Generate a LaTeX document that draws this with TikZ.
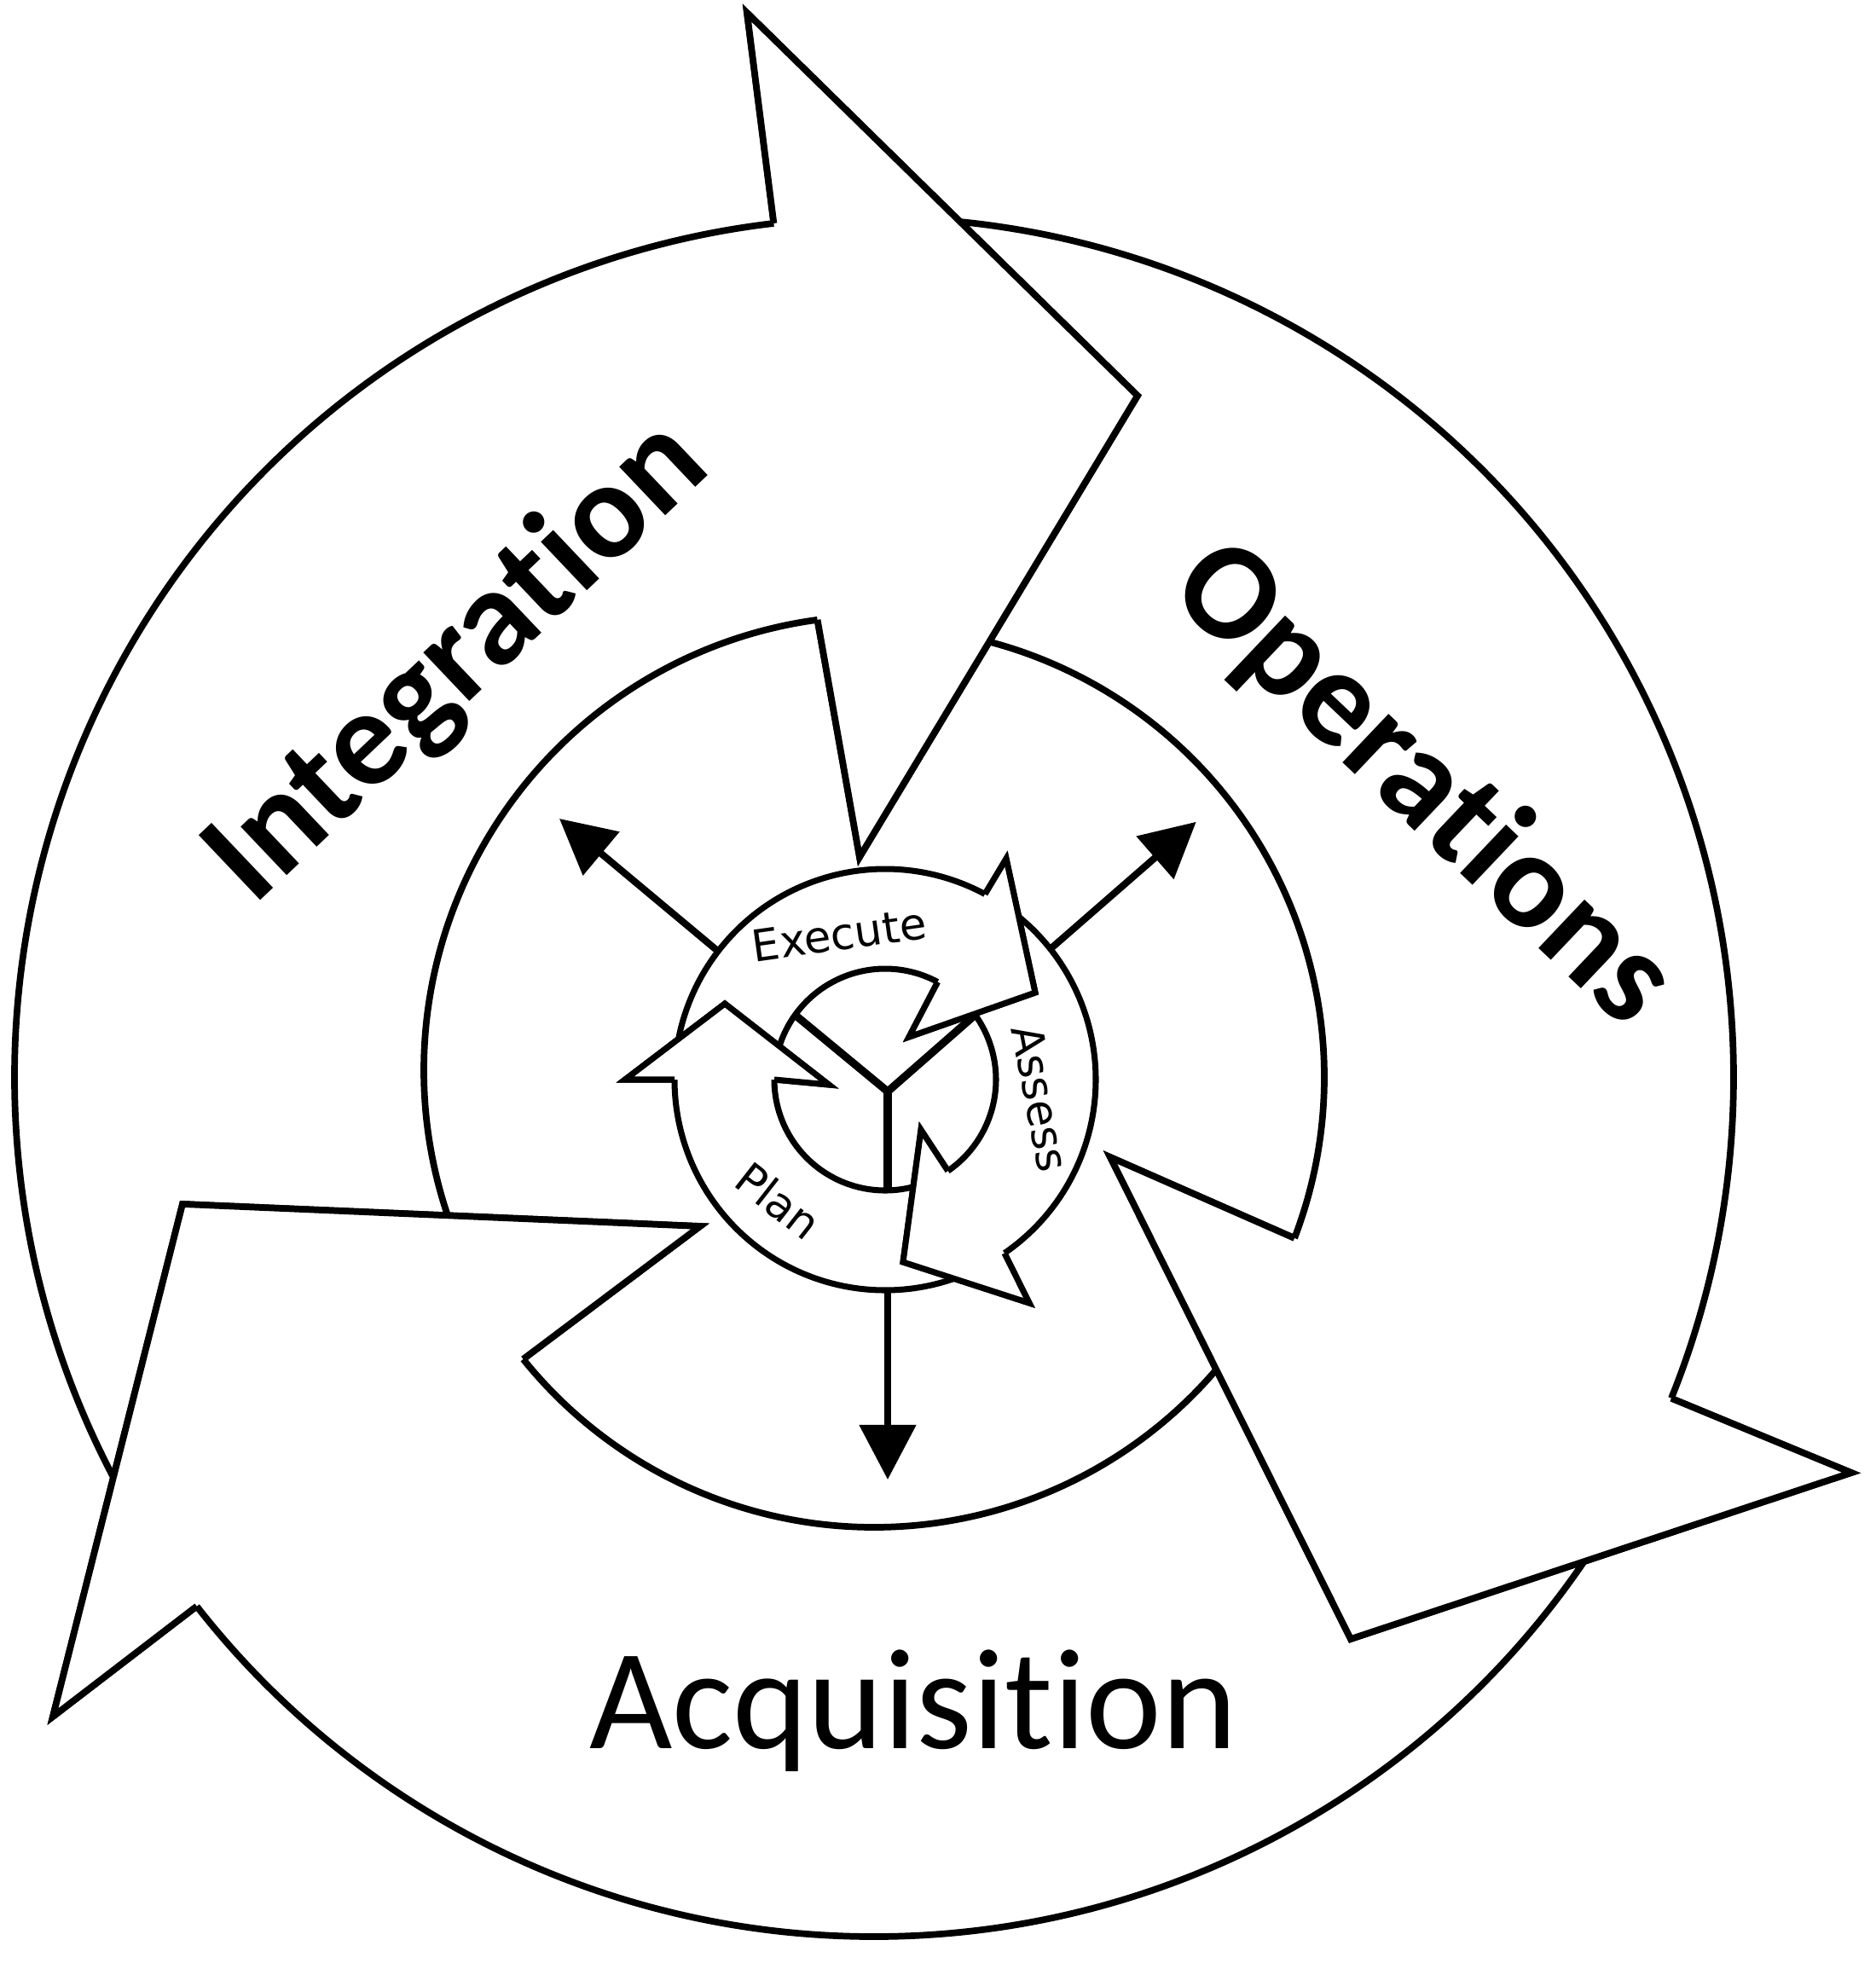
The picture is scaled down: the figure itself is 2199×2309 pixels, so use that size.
\documentclass[tikz,border=0pt]{standalone}
\usepackage{fontspec}
\setmainfont{Carlito}[Ligatures={NoCommon,NoDiscretionary,NoRare,NoContextual}]
\newfontfamily\lblDejaVu{DejaVu Sans}
\usetikzlibrary{calc,arrows.meta}
\begin{document}
\begin{tikzpicture}[x=0.01cm, y=-0.01cm,
  bigline/.style={line width=2.2pt, line join=miter},
  smallline/.style={line width=2.0pt, line join=miter},
  armline/.style={line width=2.6pt},
  radial/.style={line width=2.3pt, -{Triangle[length=0.64cm,width=0.65cm]}},
  bigtext/.style={font=\fontsize{46}{50}\selectfont\bfseries, inner sep=0pt},
  acqtext/.style={font=\fontsize{47.8}{52}\selectfont, inner sep=0pt},
  smalltext/.style={font=\lblDejaVu\fontsize{14.6}{16}\selectfont, inner sep=0pt}]

\fill[white] (0,0) rectangle (2199,2309);
\useasboundingbox (0,0) rectangle (2199,2309);

% ---------- big ring ----------
\coordinate (C) at (1025,1263);
\coordinate (Ci) at (1030,1255);

% Integration
\coordinate (IntS)  at ($(C)+(150:1008)$);
\coordinate (IntNo) at ($(C)+(263.3:1008)$);
\coordinate (IntBo) at (876,15);
\coordinate (IntT)  at (1334,464);
\coordinate (IntBi) at (1008,1005);
\coordinate (IntNi) at ($(Ci)+(262.3:533)$);
% Operations
\coordinate (OpS)  at ($(C)+(-88:1008)$);
\coordinate (OpNo) at ($(C)+(21.95:1008)$);
\coordinate (OpBo) at (2171,1727);
\coordinate (OpT)  at (1584,1922);
\coordinate (OpBi) at (1302,1357);
\coordinate (OpNi) at ($(C)+(20.97:528)$);
% Acquisition
\coordinate (AcS)  at ($(C)+(31:1008)$);
\coordinate (AcNo) at ($(C)+(142:1008)$);
\coordinate (AcBo) at (62,2013);
\coordinate (AcT)  at (214,1412);
\coordinate (AcBi) at (821,1438);
\coordinate (AcNi) at ($(C)+(141.2:528)$);

\draw[bigline] (IntS) arc[start angle=150, end angle=263.3, radius=1008]
  -- (IntBo) -- (IntT) -- (IntBi) -- (IntNi) arc[start angle=262.3, end angle=158, radius=533];
\draw[bigline] (OpS) arc[start angle=-88, end angle=21.95, radius=1008]
  -- (OpBo) -- (OpT) -- (OpBi) -- (OpNi) arc[start angle=20.97, end angle=-78, radius=528];
\draw[bigline] (AcS) arc[start angle=31, end angle=142, radius=1008]
  -- (AcBo) -- (AcT) -- (AcBi) -- (AcNi) arc[start angle=141.2, end angle=38, radius=528];

\fill[white] (IntNo) -- (IntBo) -- (IntT) -- (IntBi) -- (IntNi) -- cycle;
\draw[bigline] (IntNo) -- (IntBo) -- (IntT) -- (IntBi) -- (IntNi);
\fill[white] (OpNo) -- (OpBo) -- (OpT) -- (OpBi) -- (OpNi) -- cycle;
\draw[bigline] (OpNo) -- (OpBo) -- (OpT) -- (OpBi) -- (OpNi);
\fill[white] (AcNo) -- (AcBo) -- (AcT) -- (AcBi) -- (AcNi) -- cycle;
\draw[bigline] (AcNo) -- (AcBo) -- (AcT) -- (AcBi) -- (AcNi);

% ---------- small cycle ----------
\coordinate (sc) at (1038,1266);
\coordinate (J) at (1041,1280);

\coordinate (ExS)  at ($(sc)+(188:247)$);
\coordinate (ExNo) at ($(sc)+(298.3:247)$);
\coordinate (ExBo) at (1180,1007);
\coordinate (ExT)  at (1214,1164);
\coordinate (ExBi) at (1066,1216);
\coordinate (ExNi) at ($(sc)+(298.3:130)$);

\coordinate (AsS)  at ($(sc)+(-53:247)$);
\coordinate (AsNo) at ($(sc)+(55.5:247)$);
\coordinate (AsBo) at (1207,1528);
\coordinate (AsT)  at (1059,1480);
\coordinate (AsBi) at (1080,1325);
\coordinate (AsNi) at ($(sc)+(55.5:130)$);

\coordinate (PlS)  at ($(sc)+(68:247)$);
\coordinate (PlNo) at ($(sc)+(180:247)$);
\coordinate (PlBo) at (733,1266);
\coordinate (PlT)  at (850,1177);
\coordinate (PlBi) at (972,1272);
\coordinate (PlNi) at ($(sc)+(180:130)$);

\draw[smallline] (ExS) arc[start angle=188, end angle=298.3, radius=247]
  -- (ExBo) -- (ExT) -- (ExBi) -- (ExNi) arc[start angle=298.3, end angle=195, radius=130];
\draw[smallline] (AsS) arc[start angle=-53, end angle=55.5, radius=247]
  -- (AsBo) -- (AsT) -- (AsBi) -- (AsNi) arc[start angle=55.5, end angle=-39, radius=130];
\draw[smallline] (PlS) arc[start angle=68, end angle=180, radius=247]
  -- (PlBo) -- (PlT) -- (PlBi) -- (PlNi) arc[start angle=180, end angle=72, radius=130];

% Y arms
\coordinate (Yul) at (932.4,1190.2);
\coordinate (Yur) at (1143.6,1190.1);
\coordinate (Yd)  at (1041,1396);
\draw[armline] (Yul) -- (J) -- (Yur);
\draw[armline] (J) -- (Yd);

\fill[white] (ExNo) -- (ExBo) -- (ExT) -- (ExBi) -- (ExNi) -- cycle;
\draw[smallline] (ExNo) -- (ExBo) -- (ExT) -- (ExBi) -- (ExNi);
\fill[white] (AsNo) -- (AsBo) -- (AsT) -- (AsBi) -- (AsNi) -- cycle;
\draw[smallline] (AsNo) -- (AsBo) -- (AsT) -- (AsBi) -- (AsNi);
\fill[white] (PlNo) -- (PlBo) -- (PlT) -- (PlBi) -- (PlNi) -- cycle;
\draw[smallline] (PlNo) -- (PlBo) -- (PlT) -- (PlBi) -- (PlNi);

% radial arrows
\coordinate (Aul0) at (842.1,1115.5);
\coordinate (Aul)  at (656,960);
\coordinate (Aur0) at (1231.8,1112.8);
\coordinate (Aur)  at (1402.7,963.8);
\coordinate (Ad0)  at (1041,1513);
\coordinate (Ad)   at (1041,1735);
\draw[radial] (Aul0) -- (Aul);
\draw[radial] (Aur0) -- (Aur);
\draw[radial] (Ad0) -- (Ad);

% ---------- labels ----------
\node[bigtext, rotate=43.5, anchor=base] (tInt) at (567,808) {Integration};
\node[bigtext, rotate=-43.5, anchor=base] (tOp) at (1637,953) {Operations};
\node[acqtext, anchor=base] (tAc) at (1071,2050) {Acquisition};
\node[smalltext, rotate=8] (tEx) at (984,1096) {Execute};
\node[smalltext, rotate=-79] (tAs) at (1220,1288) {Assess};
\node[smalltext, rotate=-38] (tPl) at (913,1408) {Plan};
\end{tikzpicture}
\end{document}
